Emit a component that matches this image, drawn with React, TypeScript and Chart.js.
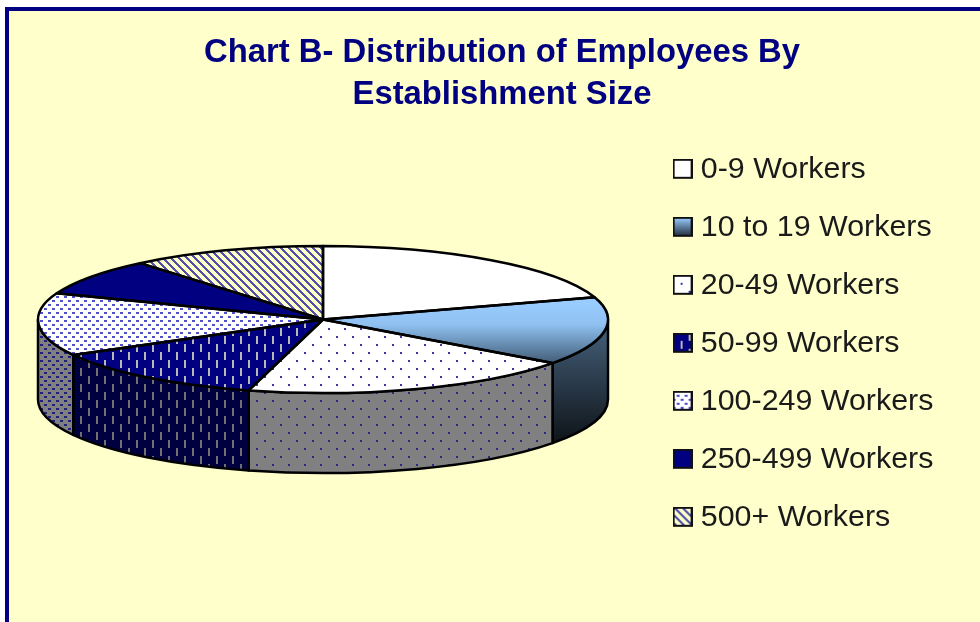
import React, { useEffect, useRef } from "react";
import { Chart, registerables } from "chart.js";

Chart.register(...registerables);

const titleLines = ["Chart B- Distribution of Employees By", "Establishment Size"];
const categories = ["0-9 Workers", "10 to 19 Workers", "20-49 Workers", "50-99 Workers", "100-249 Workers", "250-499 Workers", "500+ Workers"];
const shares = [20.1, 15.0, 19.1, 12.8, 13.8, 8.1, 11.1];

const NAVY = "#000080";
const CREAM = "#FFFFCC";
const topBg = ["#FFFFFF", "#99CCFF", "#FFFFFF", NAVY, "#FFFFFF", NAVY, CREAM];
const topFg = ["", "", "#3838A0", "#B8B8B8", "#5050C8", "", "#5050A8"];
const wallBg = ["#808080", "#45607A", "#808080", "#000040", "#808080", "#000040", "#808080"];
const wallFg = ["", "", "#2A2A80", "#707070", "#20207A", "", "#000040"];
const hatch = ["none", "gradient", "sparse", "dash", "dense", "none", "diagonal"];

const ELL = { cx: 323, cy: 319.5, rx: 285, ry: 73.5, depth: 80 };

function tile(bg: string, fg: string, kind: string) {
  const size = 16;
  const c = document.createElement("canvas");
  c.width = size;
  c.height = size;
  const g = c.getContext("2d")!;
  g.fillStyle = bg;
  g.fillRect(0, 0, size, size);
  g.fillStyle = fg || bg;
  if (kind === "sparse") {
    g.fillRect(0, 0, 2, 2);
    g.fillRect(8, 8, 2, 2);
  } else if (kind === "dash") {
    g.fillRect(0, 0, 2, 8);
    g.fillRect(8, 8, 2, 8);
  } else if (kind === "dense") {
    for (let y = 0; y < size; y += 8) {
      for (let x = 0; x < size; x += 8) {
        g.fillRect(x, y, 3, 2);
        g.fillRect(x + 4, y + 4, 3, 2);
      }
    }
  } else if (kind === "diagonal") {
    for (let y = 0; y < size; y++) {
      for (let x = 0; x < size; x++) {
        if (((x - y) % 8 + 8) % 8 < 3) g.fillRect(x, y, 1, 1);
      }
    }
  }
  return c;
}

function swatch(i: number) {
  const c = document.createElement("canvas");
  c.width = 20;
  c.height = 22;
  const g = c.getContext("2d")!;
  if (hatch[i] === "gradient") {
    const lg = g.createLinearGradient(0, 1, 0, 19);
    lg.addColorStop(0, "#99CCFF");
    lg.addColorStop(1, "#223040");
    g.fillStyle = lg;
  } else {
    g.fillStyle = g.createPattern(tile(topBg[i], topFg[i], hatch[i]), "repeat")!;
  }
  g.fillRect(1, 1, 18, 18);
  g.strokeStyle = "#101010";
  g.lineWidth = 2;
  g.strokeRect(1, 1, 18, 18);
  return c;
}

export default function App() {
  const ref = useRef<HTMLCanvasElement | null>(null);

  useEffect(() => {
    document.body.style.margin = "0";
    const canvas = ref.current!;
    const c2d = canvas.getContext("2d")!;
    const topPatterns: (CanvasPattern | null)[] = categories.map((_, i) =>
      hatch[i] === "none" || hatch[i] === "gradient" ? null : c2d.createPattern(tile(topBg[i], topFg[i], hatch[i]), "repeat")
    );
    const wallPatterns: (CanvasPattern | null)[] = categories.map((_, i) =>
      hatch[i] === "none" || hatch[i] === "gradient" ? null : c2d.createPattern(tile(wallBg[i], wallFg[i], hatch[i]), "repeat")
    );

    const pie3d = {
      id: "pie3d",
      beforeDraw(chart: any) {
        const g = chart.ctx;
        g.save();
        g.fillStyle = "#FFFFFF";
        g.fillRect(0, 0, 980, 622);
        g.fillStyle = NAVY;
        g.fillRect(5, 7, 975, 615);
        g.fillStyle = CREAM;
        g.fillRect(9, 11, 971, 611);
        g.restore();
      },
      afterLayout(chart: any) {
        const lg = chart.legend;
        lg.left = 652;
        lg.right = 980;
        lg.top = 127;
        lg.bottom = 622;
      },
      beforeDatasetsDraw(chart: any) {
        const g = chart.ctx;
        const arcs = chart.getDatasetMeta(0).data;
        const { cx, cy, rx, ry, depth } = ELL;
        g.save();
        g.lineWidth = 2.5;
        g.strokeStyle = "#000000";
        g.lineJoin = "round";
        arcs.forEach((arc: any, i: number) => {
          const a = Math.max(arc.startAngle, 0);
          const b = Math.min(arc.endAngle, Math.PI);
          if (a >= b) return;
          g.beginPath();
          g.ellipse(cx, cy, rx, ry, 0, a, b);
          g.ellipse(cx, cy + depth, rx, ry, 0, b, a, true);
          g.closePath();
          if (hatch[i] === "gradient") {
            const lg = g.createLinearGradient(0, 325, 0, 445);
            lg.addColorStop(0, "#45607A");
            lg.addColorStop(1, "#0D1217");
            g.fillStyle = lg;
          } else {
            g.fillStyle = wallPatterns[i] || wallBg[i];
          }
          g.fill();
          g.stroke();
        });
        g.restore();

        const first = arcs[0];
        const R = first.outerRadius;
        g.save();
        g.translate(cx, cy);
        g.scale(rx / R, ry / R);
        g.translate(-first.x, -first.y);
        const inverse = g.getTransform().inverse();
        topPatterns.forEach((p) => p && p.setTransform(inverse));
      },
      afterDatasetsDraw(chart: any) {
        const g = chart.ctx;
        g.restore();
        const { cx, cy, rx, ry } = ELL;
        g.save();
        g.lineWidth = 2.5;
        g.strokeStyle = "#000000";
        g.lineJoin = "round";
        chart.getDatasetMeta(0).data.forEach((arc: any) => {
          g.beginPath();
          g.moveTo(cx, cy);
          g.ellipse(cx, cy, rx, ry, 0, arc.startAngle, arc.endAngle);
          g.closePath();
          g.stroke();
        });
        g.restore();
      },
    };

    const chart = new Chart(canvas, {
      type: "pie",
      data: {
        labels: categories,
        datasets: [
          {
            data: shares,
            borderWidth: 0,
            backgroundColor: (ctx: any) => {
              const i = ctx.dataIndex ?? 0;
              if (hatch[i] === "gradient") {
                const area = ctx.chart.chartArea;
                const R = Math.min(area.right - area.left, area.bottom - area.top) / 2;
                const mid = (area.top + area.bottom) / 2;
                const toUser = (y: number) => mid + ((y - ELL.cy) * R) / ELL.ry;
                const lg = ctx.chart.ctx.createLinearGradient(0, toUser(303), 0, toUser(365));
                lg.addColorStop(0, "#99CCFF");
                lg.addColorStop(0.35, "#8FC0F0");
                lg.addColorStop(1, "#3E5870");
                return lg;
              }
              return topPatterns[i] || topBg[i];
            },
          },
        ],
      },
      options: {
        responsive: false,
        animation: false,
        events: [],
        layout: { padding: { left: 24 } },
        plugins: {
          tooltip: { enabled: false },
          title: {
            display: true,
            text: titleLines,
            color: NAVY,
            font: { family: "'Liberation Sans', Arial, sans-serif", size: 32.8, weight: "bold", lineHeight: 42 / 32.8 },
            padding: { top: 32, bottom: 0 },
          },
          legend: {
            display: true,
            position: "right",
            align: "start",
            labels: {
              color: "#1A1A1A",
              font: { family: "'Liberation Sans', Arial, sans-serif", size: 30.4 },
              usePointStyle: true,
              boxWidth: 6,
              padding: 27.6,
              generateLabels: () =>
                categories.map((text, i) => ({
                  text,
                  index: i,
                  fontColor: "#1A1A1A",
                  pointStyle: swatch(i),
                  lineWidth: 0,
                  hidden: false,
                })),
            },
          },
        },
      },
      plugins: [pie3d],
    } as any);

    return () => chart.destroy();
  }, []);

  return <canvas ref={ref} width={980} height={622} style={{ display: "block", width: 980, height: 622 }} />;
}
